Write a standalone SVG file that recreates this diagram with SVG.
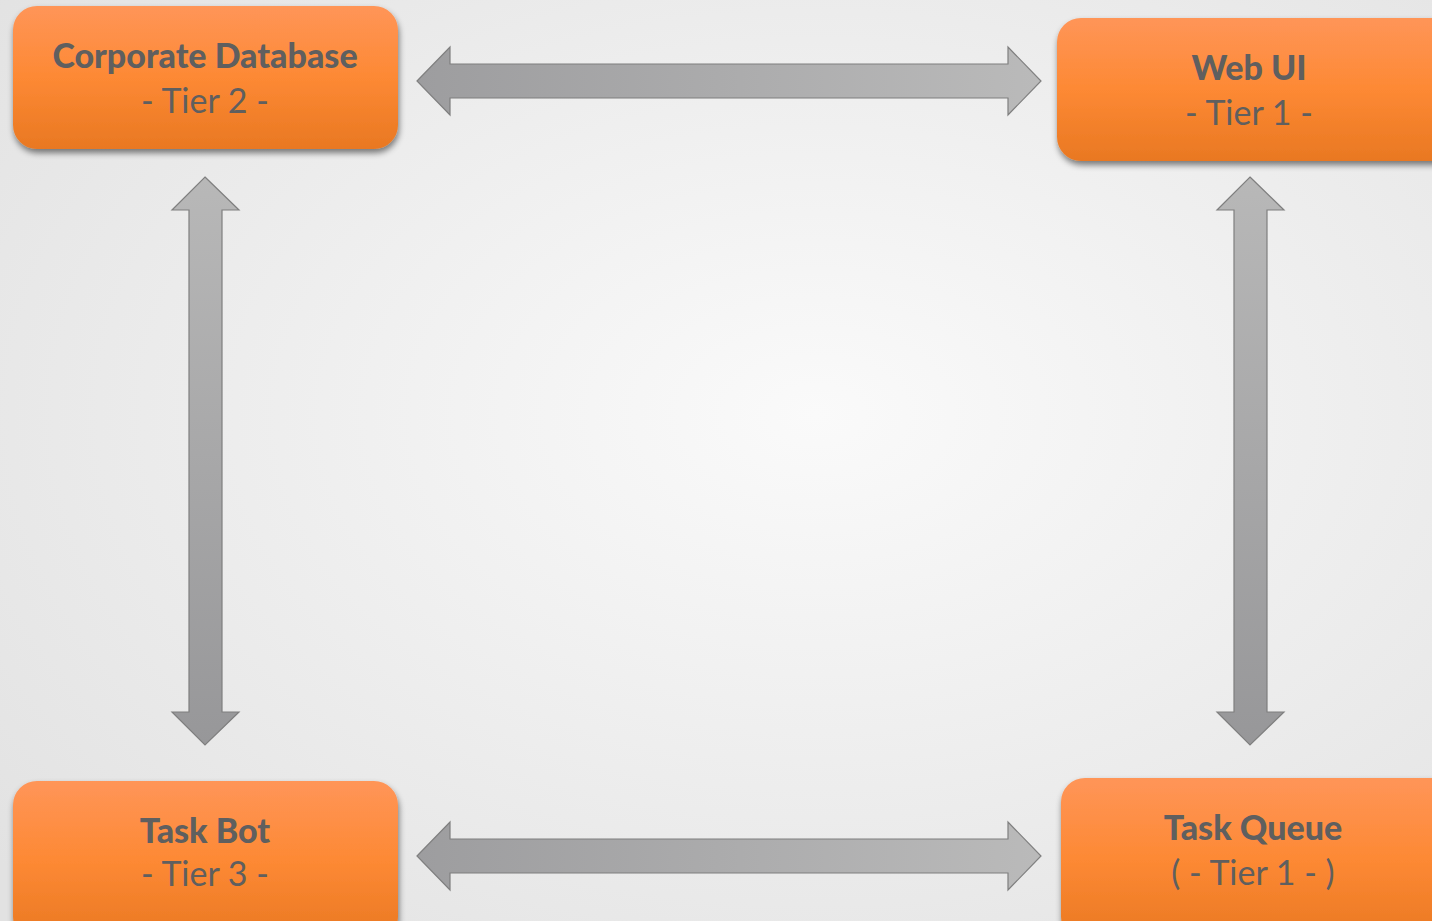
<svg xmlns="http://www.w3.org/2000/svg" width="1432" height="921" viewBox="0 0 1432 921">
<defs>
<radialGradient id="bg" cx="0.57" cy="0.45" r="0.75">
<stop offset="0" stop-color="#fafafa"/>
<stop offset="1" stop-color="#e2e2e2"/>
</radialGradient>
<linearGradient id="nodeG" x1="0" y1="0" x2="0" y2="1">
<stop offset="0" stop-color="#ff9558"/>
<stop offset="0.5" stop-color="#fd8934"/>
<stop offset="1" stop-color="#e97822"/>
</linearGradient>
<linearGradient id="hArrow" x1="0" y1="0" x2="1" y2="0">
<stop offset="0" stop-color="#9d9d9f"/>
<stop offset="1" stop-color="#bababa"/>
</linearGradient>
<linearGradient id="vArrow" x1="0" y1="0" x2="0" y2="1">
<stop offset="0" stop-color="#b8b8b8"/>
<stop offset="1" stop-color="#979799"/>
</linearGradient>
<filter id="sh" x="-10%" y="-10%" width="120%" height="130%">
<feGaussianBlur in="SourceAlpha" stdDeviation="3"/>
<feOffset dx="1" dy="4" result="b"/>
<feComponentTransfer><feFuncA type="linear" slope="0.5"/></feComponentTransfer>
<feMerge><feMergeNode/><feMergeNode in="SourceGraphic"/></feMerge>
</filter>
</defs>
<style>
.node{fill:url(#nodeG);filter:url(#sh);}
.t1{font-family:Lato,"Open Sans",sans-serif;font-weight:900;font-size:34px;fill:#5f5f5f;text-anchor:middle;}
.t2{font-family:Lato,"Open Sans",sans-serif;font-size:34px;fill:#5f5f5f;text-anchor:middle;}
.ha{fill:url(#hArrow);stroke:#7f7f7f;stroke-width:1.2;}
.va{fill:url(#vArrow);stroke:#7f7f7f;stroke-width:1.2;}
</style>
<rect width="1432" height="921" fill="url(#bg)"/>
<g id="connectors">
<path class="ha" d="M417,81 L450,47 L450,64 L1008,64 L1008,47 L1041,81 L1008,115 L1008,98 L450,98 L450,115 Z"/>
<path class="ha" d="M417,856 L450,822 L450,839 L1008,839 L1008,822 L1041,856 L1008,890 L1008,873 L450,873 L450,890 Z"/>
<path class="va" d="M205,177 L239,210 L222,210 L222,712 L239,712 L205,745 L172,712 L189,712 L189,210 L172,210 Z"/>
<path class="va" d="M1250,177 L1284,210 L1267,210 L1267,712 L1284,712 L1250,745 L1217,712 L1234,712 L1234,210 L1217,210 Z"/>
</g>
<g id="corporate-database">
<rect class="node" x="13" y="6" width="385" height="143" rx="24"/>
<text class="t1" x="205" y="68">Corporate Database</text>
<text class="t2" x="205" y="113">- Tier 2 -</text>
</g>
<g id="web-ui">
<rect class="node" x="1057" y="18" width="400" height="143" rx="24"/>
<text class="t1" x="1249" y="80">Web UI</text>
<text class="t2" x="1249" y="125">- Tier 1 -</text>
</g>
<g id="task-bot">
<rect class="node" x="13" y="781" width="385" height="160" rx="24"/>
<text class="t1" x="205" y="843">Task Bot</text>
<text class="t2" x="205" y="886">- Tier 3 -</text>
</g>
<g id="task-queue">
<rect class="node" x="1061" y="778" width="400" height="163" rx="24"/>
<text class="t1" x="1253" y="840">Task Queue</text>
<text class="t2" x="1253" y="885">( - Tier 1 - )</text>
</g>
</svg>
